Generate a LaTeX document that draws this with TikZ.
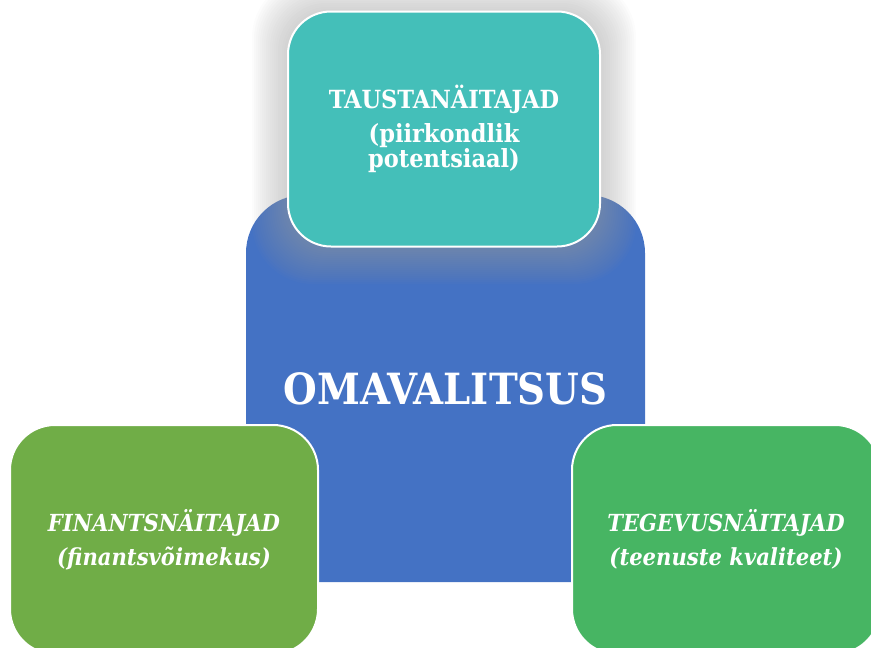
\documentclass[tikz,border=0pt]{standalone}
\usepackage{fontspec}
\setmainfont{DejaVu Serif Condensed}
\definecolor{omablue}{RGB}{68, 114, 196}
\definecolor{taustteal}{RGB}{68, 191, 185}
\definecolor{fingreen}{RGB}{112, 173, 71}
\definecolor{tegevgreen}{RGB}{71, 181, 99}
\definecolor{shadowgray}{RGB}{160, 160, 160}
\usetikzlibrary{positioning}

\tikzset{
  mainbox/.style={rectangle, rounded corners=58pt, fill=omablue, minimum width=399pt, minimum height=387pt, inner sep=0pt, text=white, font=\bfseries\fontsize{43}{50}\selectfont},
  topbox/.style={rectangle, rounded corners=43pt, fill=taustteal, draw=white, line width=2pt, minimum width=312pt, minimum height=235pt, text=white, align=center, font=\bfseries\fontsize{25}{25}\selectfont},
  sidebox/.style={rectangle, rounded corners=45pt, draw=white, line width=2pt, minimum width=308pt, minimum height=229pt, text=white, align=center, font=\bfseries\itshape\fontsize{23.5}{34}\selectfont}
}

\begin{document}
\begin{tikzpicture}[x=1pt, y=-1pt]
  \useasboundingbox (0, 0) rectangle (871, 648);
  \clip (0, 0) rectangle (871, 648);

  % Centre
  \node[mainbox] (oma) at (445.5, 388.5) {OMAVALITSUS};

  % Shadow round the top box
  \foreach \d in {1,...,18} {
    \fill[shadowgray, opacity=0.035, rounded corners=43+\d] (288-2*\d, 13-2*\d) rectangle (600+2*\d, 248+2*\d);
  }

  \node[topbox] (taust) at (444, 129) {TAUSTANÄITAJAD\\[9pt](piirkondlik\\potentsiaal)};

  \node[sidebox, fill=fingreen] (finants) at (164, 539.5) {FINANTSNÄITAJAD\\(finantsvõimekus)};
  \node[sidebox, fill=tegevgreen] (tegevus) at (726, 539.5) {TEGEVUSNÄITAJAD\\(teenuste kvaliteet)};
\end{tikzpicture}
\end{document}
